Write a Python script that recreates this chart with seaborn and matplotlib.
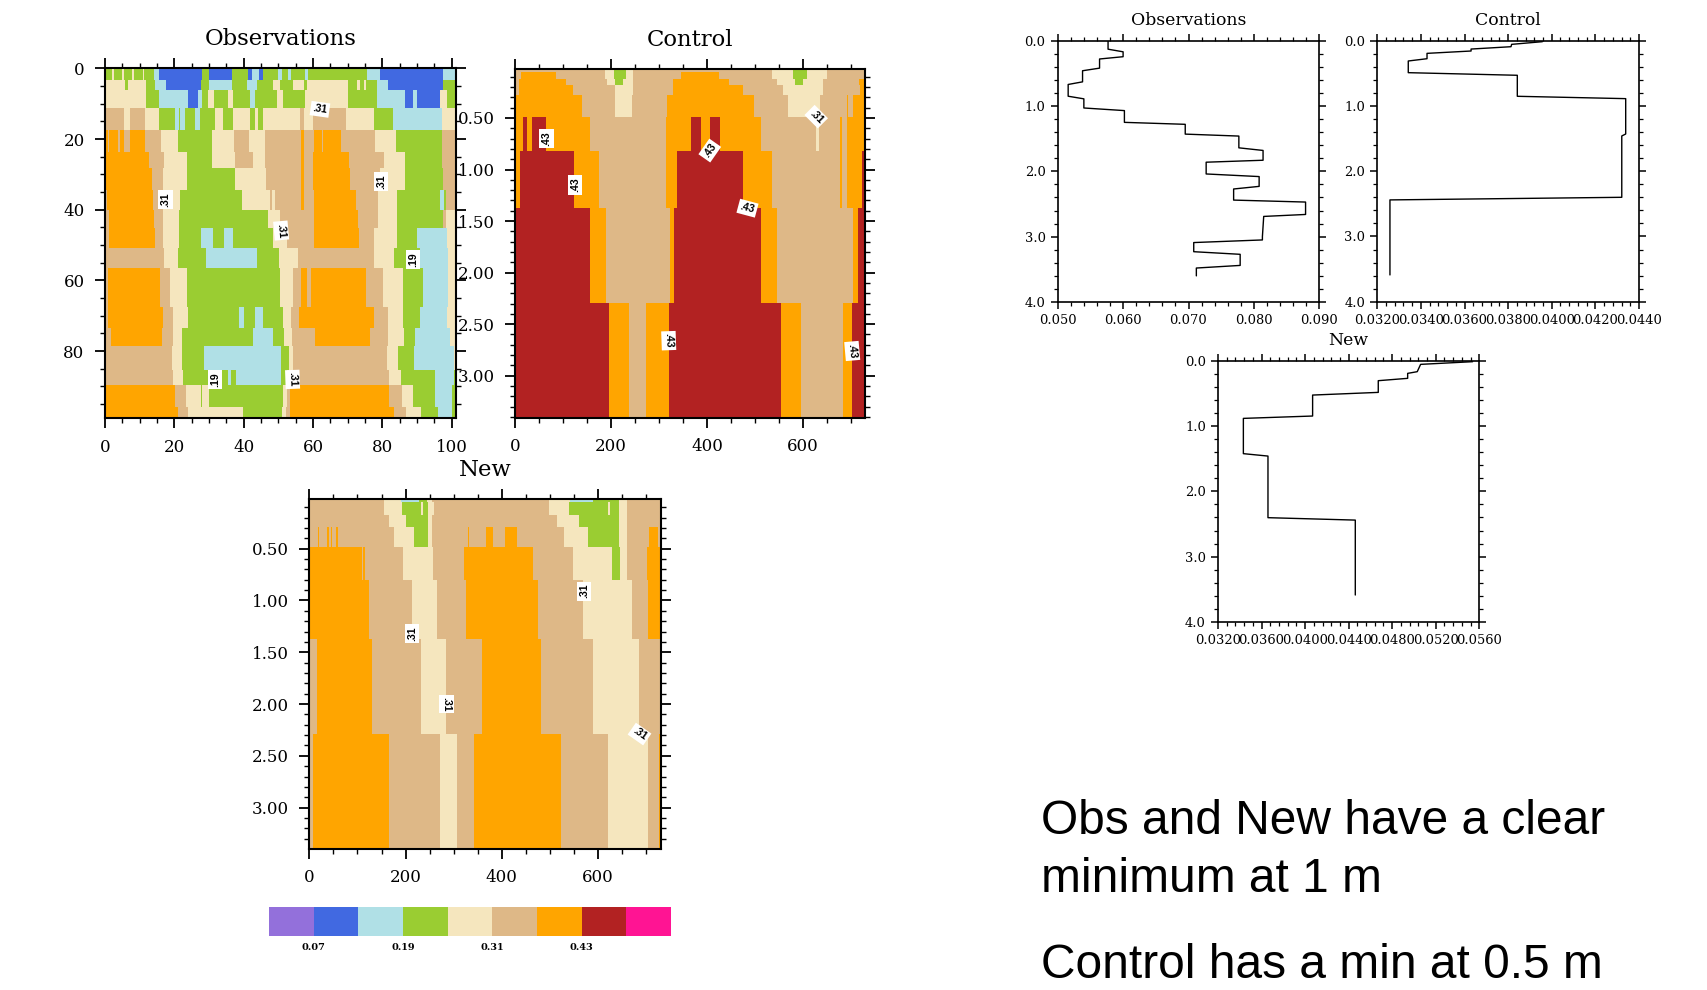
"""
Contour panels and mean profiles: Observations, Control, New
"""

import matplotlib
matplotlib.use("Agg")
import matplotlib.pyplot as plt
import numpy as np
import seaborn as sns
from matplotlib.colors import ListedColormap
from matplotlib.ticker import FixedLocator, FormatStrFormatter

# contour classes, index into level_colors
B, L, G, W, T, O, R = 1, 2, 3, 4, 5, 6, 7
level_colors = ["#9370DB", "#4169E1", "#B0E0E6", "#9ACD32", "#F5E6BE",
                "#DEB887", "#FFA500", "#B22222", "#FF1493"]
level_labels = ["0.07", "0.19", "0.31", "0.43"]

# each row: (class, right edge on the x axis) from left to right
obs_depth = [3.3, 6.1, 11.3, 17.5, 23.6, 28.3, 34.4, 40.1, 45.3, 50.9, 56.6,
             67.5, 73.6, 78.6, 85.4, 89.6, 95.8, 99]
obs_rows = [
    [(G,1.9),(W,2.4),(G,4.8),(W,5.3),(G,7.7),(W,8.2),(G,10.8),(W,11.3),(G,14.1),(L,15.4),(B,27.9),(G,30.1),(B,36.5),(G,41.3),(B,42.5),(L,44.4),(B,45.7),(G,50),(L,51),(G,52.9),(L,53.8),(G,57.7),(L,58.7),(G,75.5),(L,79.3),(B,97.4),(L,102)],
    [(W,5.8),(G,6.5),(W,11.7),(G,14.4),(L,17.6),(B,27.6),(G,30.1),(L,36.5),(G,40.9),(L,43.8),(G,48.6),(W,50.5),(G,54.3),(W,57.4),(G,58.2),(W,70.2),(G,72.6),(W,73.4),(G,74.5),(W,75.3),(G,78.4),(L,81.7),(B,97.4),(G,102)],
    [(W,11.7),(G,15.6),(L,24),(B,26.9),(L,27.9),(G,29.8),(W,31.3),(G,35.6),(W,37),(G,41.8),(L,43.3),(G,49.5),(W,51.4),(G,57.7),(W,70.2),(G,78.4),(L,86.5),(B,88.9),(L,89.9),(B,96.6),(W,98.6),(G,102)],
    [(T,5.3),(W,7.2),(T,11.5),(W,15.6),(G,20.2),(L,21.2),(G,21.6),(L,23.1),(G,26),(L,27.4),(G,31.7),(W,34.1),(G,37),(W,41.8),(G,43.3),(W,44.2),(G,45.7),(W,56.3),(T,57.4),(W,60.1),(T,69.7),(W,77.4),(G,82.9),(L,97.1),(W,102)],
    [(O,0.8),(T,1.1),(O,3.8),(T,4.3),(O,5.3),(T,7.2),(O,11.5),(T,16),(W,21.1),(G,30.9),(W,37.3),(T,41.4),(W,46.2),(T,56.5),(O,57.4),(T,60.3),(O,62.7),(T,63),(O,68),(T,77.9),(W,84),(G,97.1),(T,102)],
    [(O,12.5),(T,17),(W,23.6),(G,30.9),(W,37.5),(T,42.6),(W,46.2),(T,56.5),(O,57.4),(T,60.1),(O,70.5),(T,80.3),(W,86.5),(G,97.1),(T,102)],
    [(O,13.5),(T,16.8),(W,23.6),(G,37.5),(W,46.6),(T,56.5),(O,57.4),(T,60.1),(O,70.7),(T,79.3),(W,86.5),(G,97.6),(T,102)],
    [(T,0.5),(O,13.7),(T,16.8),(W,21.6),(G,39.6),(W,47.6),(T,48.3),(W,49),(T,56.5),(O,57.4),(T,60.3),(O,72.4),(T,78.6),(W,84.3),(G,96.5),(L,97.7),(G,98.3),(T,102)],
    [(T,1),(O,14.1),(T,16.8),(W,21.4),(G,47.1),(W,50.5),(T,60.3),(O,72.8),(T,78.6),(W,84.1),(G,97.5),(T,98.2),(W,102)],
    [(T,1.2),(O,14.5),(T,16.8),(W,21.4),(G,27.6),(L,31.1),(G,34.3),(L,36.8),(G,48.6),(W,52.4),(T,60.3),(O,73.1),(T,77.4),(W,84.1),(G,89.9),(L,98.6),(W,102)],
    [(T,17),(W,21.1),(G,29.2),(L,44),(G,50.3),(W,55.8),(T,77.4),(W,83.4),(G,90.9),(L,99),(W,102)],
    [(T,0.7),(O,15.7),(T,18.8),(W,23.6),(G,50.5),(W,54.3),(T,56.7),(O,58.2),(T,59.6),(O,75.3),(T,80.1),(W,86),(G,91.8),(L,99),(W,102)],
    [(T,0.7),(O,16.6),(T,19.5),(W,23.8),(G,38.7),(L,40.1),(G,43.3),(L,45.7),(G,51.4),(W,53.8),(T,56),(O,77.6),(T,81.5),(W,86),(G,90.9),(L,98.6),(W,102)],
    [(T,1.6),(O,12.8),(T,13),(O,16.4),(T,19.5),(W,22.1),(G,42.8),(L,48.4),(G,51.6),(W,54.1),(T,60.6),(O,76.4),(T,81.5),(W,86.3),(G,89.4),(L,99.5),(W,102)],
    [(T,19.2),(W,22.1),(G,28.6),(L,50.7),(G,53.2),(W,54.3),(T,81.4),(W,84.6),(G,89.2),(L,100.5),(W,102)],
    [(T,19.7),(W,22.6),(G,35.6),(L,36.3),(G,37.8),(L,50.7),(G,52.6),(W,54.1),(T,81.8),(W,85.3),(G,95.2),(L,100.5),(G,102)],
    [(O,20.2),(T,23.4),(W,27.8),(G,28),(W,30),(G,51.4),(W,52.4),(T,53.4),(O,82),(T,85.6),(W,88.9),(G,95.2),(L,100),(G,102)],
    [(O,21),(T,24),(W,39.9),(G,51),(W,52.2),(T,53.4),(O,83.2),(T,86.8),(W,91.1),(G,96.1),(L,100),(G,102)],
]
obs_labels = [(".31",62,11.6,-8), (".31",17.5,37.1,90), (".31",79.6,32.1,90),
              (".31",50.8,45.9,-85), (".19",88.9,54,90), (".19",31.7,88,90), (".31",54.1,88,-88)]

ctl_depth = [0.06, 0.12, 0.18, 0.28, 0.49, 0.825, 1.375, 2.296, 3.41]
ctl_rows = [
    [(T,187),(W,205),(G,231),(W,246),(T,534),(W,579),(G,607),(W,648),(T,730)],
    [(T,12),(O,85),(T,187),(W,205),(G,231),(W,246),(T,345),(O,425),(T,534),(W,579),(G,607),(W,648),(T,730)],
    [(T,8),(O,105),(T,190),(W,207),(G,225),(W,245),(T,328),(O,445),(T,545),(W,583),(G,600),(W,640),(T,715),(O,730)],
    [(T,7),(O,121),(T,207),(W,245),(T,329),(O,475),(T,558),(W,641),(T,718),(O,730)],
    [(O,139),(T,207),(W,243),(T,315),(O,497),(T,568),(W,634),(T,690),(O,693),(T,704),(O,730)],
    [(O,17),(R,24),(O,35),(R,64),(O,156),(T,314),(O,366),(R,386),(O,405),(R,426),(O,511),(T,627),(W,632),(T,676),(O,681),(T,690),(O,730)],
    [(O,10),(R,123),(O,175),(T,314),(O,336),(R,475),(O,534),(T,676),(O,681),(T,690),(O,721),(R,730)],
    [(R,155),(O,189),(T,322),(O,331),(R,511),(O,544),(T,704),(O,714),(R,730)],
    [(R,196),(O,236),(T,272),(O,321),(R,553),(O,595),(T,683),(O,702),(R,730)],
]
ctl_labels = [(".43",66,0.70,90), (".43",125,1.15,90), (".43",405.5,0.816,55),
              (".43",484,1.375,-15), (".31",627,0.487,-45), (".43",320,2.66,-88), (".43",702,2.76,-85)]

new_depth = [0.05, 0.17, 0.29, 0.48, 0.80, 1.37, 2.29, 3.40]
new_rows = [
    [(T,154),(W,190),(L,228),(G,244),(W,255),(T,497),(W,542),(L,590),(G,642),(W,660),(T,731)],
    [(T,154),(W,192),(G,232),(W,236),(G,247),(W,260),(T,498),(W,540),(G,620),(W,625),(G,642),(W,660),(T,731)],
    [(T,165),(W,200),(G,247),(W,255),(T,515),(W,560),(G,642),(W,660),(T,731)],
    [(T,19),(O,21),(T,37),(O,41),(T,45),(O,48),(T,55),(O,60),(T,176),(W,218),(G,247),(W,255),(T,330),(O,333),(T,367),(O,382),(T,407),(O,431),(T,530),(W,580),(G,642),(W,660),(T,706),(O,725),(T,731)],
    [(O,109),(T,112),(O,115),(T,195),(W,258),(T,321),(O,465),(T,549),(W,628),(G,644),(W,660),(T,702),(O,731)],
    [(O,123),(T,213),(W,266),(T,326),(O,474),(T,568),(W,670),(T,704),(O,731)],
    [(T,17),(O,130),(T,232),(W,284),(T,360),(O,481),(T,590),(W,685),(T,731)],
    [(T,8),(O,166),(T,272),(W,308),(T,343),(O,522),(T,621),(W,704),(T,726),(O,731)],
]
new_labels = [(".31",213,1.32,90), (".31",571,0.91,90), (".31",285,2.0,-90), (".31",686,2.29,-35)]

# profiles
obs_prof_x = [.0577,.0577,.0600,.0600,.0564,.0564,.0538,.0538,.0516,.0516,.0540,.0540,.0602,.0602,.0695,.0695,.0777,.0777,.0814,.0814,.0727,.0727,.0808,.0808,.0769,.0769,.0879,.0879,.0815,.0813,.0813,.0708,.0708,.0779,.0779,.0712,.0712]
obs_prof_d = [0,.13,.17,.245,.28,.42,.46,.63,.67,.85,.89,1.03,1.07,1.25,1.28,1.43,1.46,1.64,1.68,1.83,1.86,2.04,2.08,2.23,2.27,2.44,2.47,2.66,2.69,3.0,3.05,3.09,3.23,3.27,3.44,3.48,3.60]
ctl_prof_x = [.03957,.03816,.03813,.03630,.03630,.03428,.03428,.03342,.03342,.03842,.03842,.04339,.04339,.04321,.04321,.03258,.03258]
ctl_prof_d = [.015,.056,.092,.128,.158,.194,.276,.311,.49,.53,.852,.888,1.43,1.46,2.40,2.44,3.59]
new_prof_x = [.05539,.05061,.0503,.04942,.04942,.04672,.04672,.04069,.04069,.03433,.03433,.03659,.03659,.04461,.04461]
new_prof_d = [.015,.056,.168,.194,.27,.306,.485,.526,.847,.883,1.423,1.46,2.403,2.44,3.587]

text_lines = ["Obs and New have a clear", "minimum at 1 m", "Control has a min at 0.5 m"]

W_PX, H_PX = 1707, 990

sns.set_theme(style="ticks")
plt.rcParams['font.family'] = ['DejaVu Serif']
cmap = ListedColormap(level_colors)


def add_axes(fig, left, top, right, bottom):
    return fig.add_axes([left / W_PX, 1 - bottom / H_PX, (right - left) / W_PX, (bottom - top) / H_PX])


def build_grid(rows, depth, xlim, ylim, nx=700, ny=700):
    """turn the band tables into a regular grid for the heatmap"""
    xs = np.linspace(xlim[0], xlim[1], nx, endpoint=False) + (xlim[1] - xlim[0]) / nx / 2
    ys = np.linspace(ylim[0], ylim[1], ny, endpoint=False) + (ylim[1] - ylim[0]) / ny / 2
    grid = np.zeros((ny, nx), dtype=int)
    for i, y in enumerate(ys):
        row = rows[min(np.searchsorted(depth, y), len(rows) - 1)]
        edges = [e for _, e in row]
        levels = np.array([c for c, _ in row])
        grid[i] = levels[np.minimum(np.searchsorted(edges, xs), len(row) - 1)]
    return grid


def contour_panel(fig, box, title, rows, depth, labels, xlim, ylim, xmaj, xmin, ymaj, ymin, yfmt):
    ax = add_axes(fig, *box)
    grid = build_grid(rows, depth, xlim, ylim)
    sns.heatmap(grid, ax=ax, cmap=cmap, vmin=-0.5, vmax=8.5, cbar=False,
                xticklabels=False, yticklabels=False, rasterized=True)
    ny, nx = grid.shape
    to_x = lambda v: (np.asarray(v) - xlim[0]) / (xlim[1] - xlim[0]) * nx
    to_y = lambda v: (np.asarray(v) - ylim[0]) / (ylim[1] - ylim[0]) * ny

    ax.set_xticks(to_x(xmaj))
    ax.set_xticklabels([str(v) for v in xmaj], rotation=0)
    ax.set_yticks(to_y(ymaj))
    ax.set_yticklabels([yfmt % v for v in ymaj], rotation=0)
    ax.xaxis.set_minor_locator(FixedLocator(to_x(xmin)))
    ax.yaxis.set_minor_locator(FixedLocator(to_y(ymin)))
    ax.tick_params(which='major', length=7.2, width=1.3, direction='out', top=True, right=True,
                   labelsize=12, pad=7.5, color='black', labelcolor='black')
    ax.tick_params(which='minor', length=3.6, width=1.0, direction='out', top=True, right=True, color='black')
    for sp in ax.spines.values():
        sp.set_visible(True)
        sp.set_linewidth(1.5)
        sp.set_color('black')
    ax.set_title(title, fontsize=16.4, pad=16.5, color='black')

    for txt, x, y, rot in labels:
        ax.text(to_x(x), to_y(y), txt, rotation=rot, rotation_mode='anchor', ha='center', va='center',
                fontsize=7.6, fontweight='bold', family='Liberation Sans', color='black',
                bbox=dict(facecolor='white', edgecolor='none', pad=1.6))
    return ax


def profile_panel(fig, box, title, xs, ds, xlim, xstep, xminor, fmt):
    ax = add_axes(fig, *box)
    sns.lineplot(x=xs, y=ds, ax=ax, sort=False, estimator=None, color='black', linewidth=1.0)
    ax.set_xlim(*xlim)
    ax.set_ylim(4, 0)
    ax.set_xticks(np.arange(xlim[0], xlim[1] + xstep / 2, xstep))
    ax.set_yticks(np.arange(0, 4.5, 1))
    ax.xaxis.set_minor_locator(FixedLocator(np.arange(xlim[0], xlim[1] + xminor / 2, xminor)))
    ax.yaxis.set_minor_locator(FixedLocator(np.arange(0, 4.1, 0.2)))
    ax.xaxis.set_major_formatter(FormatStrFormatter(fmt))
    ax.yaxis.set_major_formatter(FormatStrFormatter('%.1f'))
    ax.tick_params(which='major', length=5.2, width=1.1, direction='out', top=True, right=True,
                   labelsize=9.4, pad=3.5, color='black', labelcolor='black')
    ax.tick_params(which='minor', length=2.6, width=0.9, direction='out', top=True, right=True, color='black')
    for sp in ax.spines.values():
        sp.set_linewidth(1.2)
        sp.set_color('black')
    ax.set_title(title, fontsize=12.4, pad=11.5, color='black')
    return ax


def main():
    fig = plt.figure(figsize=(W_PX / 100, H_PX / 100), dpi=100)

    contour_panel(fig, (105, 68.3, 455.7, 418.3), 'Observations', obs_rows, obs_depth, obs_labels,
                  (0, 101.15), (0, 99), [0, 20, 40, 60, 80, 100], np.arange(0, 101, 5),
                  [0, 20, 40, 60, 80], np.arange(0, 99, 5), '%d')
    contour_panel(fig, (515, 69, 865, 418), 'Control', ctl_rows, ctl_depth, ctl_labels,
                  (0, 728.6), (0.025, 3.41), [0, 200, 400, 600], np.arange(0, 720, 50),
                  [0.5, 1.0, 1.5, 2.0, 2.5, 3.0], np.arange(0.1, 3.41, 0.1), '%.2f')
    contour_panel(fig, (309.3, 499, 660.7, 849), 'New', new_rows, new_depth, new_labels,
                  (0, 730), (0.02, 3.40), [0, 200, 400, 600], np.arange(0, 720, 50),
                  [0.5, 1.0, 1.5, 2.0, 2.5, 3.0], np.arange(0.1, 3.40, 0.1), '%.2f')

    profile_panel(fig, (1057.7, 40.7, 1319.3, 302), 'Observations', obs_prof_x, obs_prof_d,
                  (0.05, 0.09), 0.01, 0.002, '%.3f')
    profile_panel(fig, (1377.3, 40.7, 1639, 301.7), 'Control', ctl_prof_x, ctl_prof_d,
                  (0.032, 0.044), 0.002, 0.0004, '%.4f')
    profile_panel(fig, (1218, 360.7, 1479.3, 622), 'New', new_prof_x, new_prof_d,
                  (0.032, 0.056), 0.004, 0.0008, '%.4f')

    # label bar
    cax = add_axes(fig, 269, 907.3, 671, 935.7)
    sns.heatmap([list(range(9))], ax=cax, cmap=cmap, vmin=-0.5, vmax=8.5, cbar=False,
                xticklabels=False, yticklabels=False)
    cax.set_xticks([1, 3, 5, 7])
    cax.set_xticklabels(level_labels, rotation=0, fontsize=7, fontweight='bold', color='black')
    cax.tick_params(axis='x', length=0, pad=5)
    for sp in cax.spines.values():
        sp.set_visible(False)

    # right hand notes
    for txt, y in zip(text_lines, [822, 880, 966]):
        fig.text(1041 / W_PX, 1 - y / H_PX, txt, family='Liberation Sans', fontsize=34.5,
                 color='black', va='center', ha='left')

    fig.savefig('out.png', dpi=100, facecolor='white')
    plt.close(fig)


if __name__ == "__main__":
    main()
